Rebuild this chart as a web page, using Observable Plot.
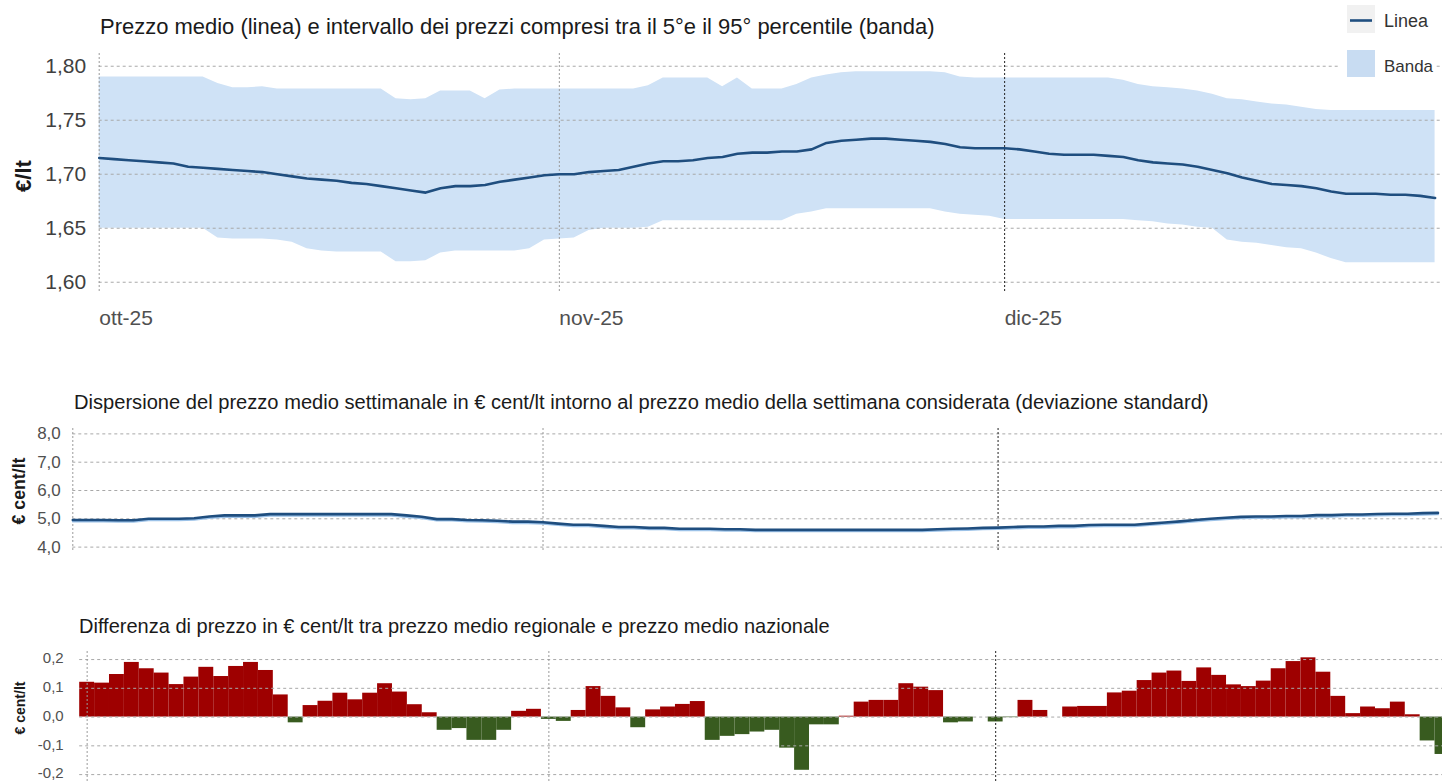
<!DOCTYPE html>
<html><head><meta charset="utf-8">
<script src="https://cdn.jsdelivr.net/npm/d3@7"></script>
<script src="https://cdn.jsdelivr.net/npm/@observablehq/plot@0.6"></script>
<style>
html,body{margin:0;padding:0;background:#fff;overflow:hidden}
#root{position:relative;width:1442px;height:781px;overflow:hidden;background:#fff}
#root svg{position:absolute;left:0;overflow:visible}
</style></head><body><div id="root"></div>
<script>
// ---------- data ----------
const START = Date.UTC(2025, 9, 1);
const DAY = 864e5;
const monthStarts = ["2025-10-01", "2025-11-01", "2025-12-01"];
const monthLabels = ["ott-25", "nov-25", "dic-25"];
const priceTicks = [1.60, 1.65, 1.70, 1.75, 1.80];
const stdTicks = [4, 5, 6, 7, 8];
const diffTicks = [-0.2, -0.1, 0, 0.1, 0.2];

// daily values, 1 Oct 2025 -> 30 Dec 2025
const meanPrice = [
  1.715,1.714,1.713,1.712,1.711,1.710,1.707,1.706,1.705,1.704,
  1.703,1.702,1.700,1.698,1.696,1.695,1.694,1.692,1.691,1.689,
  1.687,1.685,1.683,1.687,1.689,1.689,1.690,1.693,1.695,1.697,
  1.699,1.700,1.700,1.702,1.703,1.704,1.707,1.710,1.712,1.712,
  1.713,1.715,1.716,1.719,1.720,1.720,1.721,1.721,1.723,1.729,
  1.731,1.732,1.733,1.733,1.732,1.731,1.730,1.728,1.725,1.724,
  1.724,1.724,1.723,1.721,1.719,1.718,1.718,1.718,1.717,1.716,
  1.713,1.711,1.710,1.709,1.707,1.704,1.701,1.697,1.694,1.691,
  1.690,1.689,1.687,1.684,1.682,1.682,1.682,1.681,1.681,1.680,
  1.678
];
const bandHigh = [
  1.790,1.790,1.790,1.790,1.790,1.790,1.790,1.790,1.784,1.780,
  1.780,1.781,1.779,1.779,1.779,1.779,1.779,1.779,1.779,1.779,
  1.770,1.769,1.770,1.777,1.777,1.777,1.770,1.778,1.779,1.779,
  1.779,1.779,1.779,1.779,1.779,1.779,1.779,1.782,1.789,1.789,
  1.789,1.789,1.781,1.789,1.779,1.779,1.779,1.783,1.789,1.792,
  1.794,1.795,1.795,1.795,1.795,1.795,1.795,1.794,1.790,1.789,
  1.789,1.789,1.789,1.789,1.789,1.789,1.789,1.789,1.789,1.787,
  1.783,1.781,1.780,1.779,1.777,1.774,1.770,1.769,1.767,1.765,
  1.764,1.762,1.760,1.759,1.759,1.759,1.759,1.759,1.759,1.759,
  1.759
];
const bandLow = [
  1.650,1.650,1.650,1.650,1.650,1.650,1.650,1.650,1.641,1.640,
  1.640,1.640,1.639,1.637,1.631,1.629,1.628,1.628,1.628,1.628,
  1.619,1.619,1.620,1.627,1.629,1.629,1.629,1.629,1.629,1.631,
  1.639,1.640,1.641,1.648,1.650,1.650,1.650,1.651,1.657,1.657,
  1.657,1.657,1.657,1.657,1.657,1.657,1.657,1.663,1.665,1.668,
  1.668,1.668,1.668,1.668,1.668,1.668,1.668,1.665,1.663,1.662,
  1.661,1.658,1.658,1.658,1.658,1.658,1.658,1.658,1.658,1.658,
  1.657,1.656,1.654,1.653,1.651,1.650,1.639,1.637,1.636,1.634,
  1.632,1.631,1.627,1.622,1.618,1.618,1.618,1.618,1.618,1.618,
  1.618
];
const stdDev = [
  4.96,4.96,4.96,4.95,4.95,5.00,5.00,5.00,5.02,5.08,
  5.12,5.12,5.12,5.165,5.165,5.165,5.165,5.165,5.165,5.165,
  5.165,5.165,5.12,5.07,4.99,4.99,4.96,4.95,4.93,4.90,
  4.90,4.88,4.83,4.79,4.79,4.75,4.71,4.71,4.68,4.68,
  4.65,4.65,4.65,4.63,4.63,4.61,4.61,4.61,4.61,4.61,
  4.61,4.61,4.61,4.61,4.61,4.61,4.61,4.63,4.65,4.66,
  4.68,4.69,4.71,4.73,4.73,4.75,4.75,4.78,4.79,4.79,
  4.79,4.83,4.87,4.91,4.96,5.00,5.04,5.07,5.08,5.08,
  5.10,5.10,5.13,5.13,5.15,5.15,5.17,5.18,5.18,5.20,
  5.21
];
// daily, 1 Oct 2025 -> 31 Dec 2025
const regionalDiff = [
  0.121,0.118,0.148,0.190,0.168,0.153,0.113,0.139,0.173,0.141,
  0.176,0.190,0.162,0.077,-0.020,0.040,0.055,0.083,0.060,0.083,
  0.116,0.087,0.043,0.015,-0.046,-0.040,-0.081,-0.081,-0.046,0.020,
  0.027,-0.008,-0.015,0.023,0.106,0.072,0.032,-0.037,0.025,0.035,
  0.044,0.054,-0.081,-0.067,-0.061,-0.052,-0.046,-0.108,-0.185,-0.027,
  -0.027,0.003,0.052,0.058,0.058,0.116,0.104,0.092,-0.020,-0.017,
  0.000,-0.017,-0.002,0.058,0.023,0.000,0.035,0.037,0.037,0.084,
  0.090,0.127,0.153,0.160,0.124,0.171,0.145,0.112,0.106,0.125,
  0.168,0.193,0.206,0.156,0.072,0.012,0.035,0.029,0.052,0.008,
  -0.083,-0.130
];

// ---------- helpers ----------
const dateOf = d => new Date(START + d * DAY);
const months = monthStarts.map(s => new Date(s + "T00:00:00Z"));
const monthLabel = d => monthLabels[months.findIndex(m => +m === +d)];
const comma = k => d => d.toFixed(k).replace(".", ",");
const SANS = '"Liberation Sans", Arial, sans-serif';
const NARROW = '"Liberation Sans Narrow", "Arial Narrow", "Liberation Sans", sans-serif';
const root = document.getElementById("root");

const topData = meanPrice.map((m, i) => ({date: dateOf(i), mean: m, hi: bandHigh[i], lo: bandLow[i]}));
const stdData = stdDev.map((v, i) => ({date: dateOf(i), v}));
const diffData = regionalDiff.map((v, i) => ({x1: dateOf(i - 0.5), x2: dateOf(i + 0.5), v}));

const gridY = ticks => Plot.ruleY(ticks, {stroke: "#a8a8a8", strokeWidth: 1, strokeDasharray: "3,3"});
const gridX = () => [
  Plot.ruleX(months.slice(0, 2), {stroke: "#9a9a9a", strokeWidth: 1, strokeDasharray: "2,2"}),
  Plot.ruleX(months.slice(2), {stroke: "#222", strokeWidth: 1, strokeDasharray: "2,2"})
];

// ---------- panel 1 ----------
const p1 = Plot.plot({
  width: 1442, height: 340,
  marginLeft: 98.7, marginRight: 0, marginTop: 53, marginBottom: 48,
  x: {type: "utc", domain: [dateOf(0), dateOf(90.5)], label: null},
  y: {domain: [1.5905, 1.8118], label: null},
  style: {fontFamily: SANS, fontSize: "21px", color: "#404040", background: "transparent", overflow: "visible"},
  marks: [
    Plot.areaY(topData, {x: "date", y1: "lo", y2: "hi", fill: "#cfe2f6"}),
    gridY(priceTicks),
    gridX(),
    Plot.lineY(topData, {x: "date", y: "mean", stroke: "#1f4e7f", strokeWidth: 2.6}),
    Plot.axisY({ticks: priceTicks, tickSize: 0, tickPadding: 13, tickFormat: comma(2), fill: "#404040", label: null}),
    Plot.axisX({ticks: months, tickSize: 0, tickPadding: 18, textAnchor: "start", tickFormat: monthLabel, fill: "#505050", label: null})
  ]
});
p1.style.top = "0px";
root.appendChild(p1);

// ---------- panel 2 ----------
const p2 = Plot.plot({
  width: 1442, height: 145,
  marginLeft: 72.3, marginRight: 0, marginTop: 13, marginBottom: 8,
  x: {type: "utc", domain: [dateOf(0), dateOf(90.3)], axis: null, label: null},
  y: {domain: [3.81, 8.19], label: null},
  style: {fontFamily: NARROW, fontSize: "17px", color: "#505050", background: "transparent", overflow: "visible"},
  marks: [
    gridY(stdTicks),
    gridX(),
    Plot.lineY(stdData, {x: "date", y: "v", stroke: "#9cc2e8", strokeWidth: 2, dy: 1.5}),
    Plot.lineY(stdData, {x: "date", y: "v", stroke: "#1f4e7f", strokeWidth: 2.6}),
    Plot.axisY({ticks: stdTicks, tickSize: 0, tickPadding: 12, tickFormat: comma(1), fill: "#505050", label: null})
  ]
});
p2.style.top = "415px";
root.appendChild(p2);

// ---------- panel 3 ----------
const p3 = Plot.plot({
  width: 1442, height: 141,
  marginLeft: 79.2, marginRight: 0, marginTop: 11, marginBottom: 0,
  x: {type: "utc", domain: [dateOf(-0.5), dateOf(91)], axis: null, label: null},
  y: {domain: [-0.224, 0.228], label: null},
  style: {fontFamily: SANS, fontSize: "15px", color: "#505050", background: "transparent", overflow: "visible"},
  marks: [
    Plot.rect(diffData, {filter: d => d.v >= 0, x1: "x1", x2: "x2", y1: 0, y2: "v", fill: "#9e0000"}),
    Plot.rect(diffData, {filter: d => d.v < 0, x1: "x1", x2: "x2", y1: 0, y2: "v", fill: "#385b1f"}),
    gridY(diffTicks),
    gridX(),
    Plot.axisY({ticks: diffTicks, tickSize: 0, tickPadding: 16, tickFormat: comma(1), fill: "#505050", label: null, dy: -1})
  ]
});
p3.style.top = "640px";
root.appendChild(p3);

// ---------- titles, axis labels, legend ----------
const ov = d3.select(root).append("svg")
  .attr("width", 1442).attr("height", 781)
  .style("top", "0px").style("pointer-events", "none");

function label({x, y, text, width, family = SANS, weight = "normal", fill = "#1a1a1a", rotate = false, anchor = "start"}) {
  const t = ov.append("text")
    .attr("font-family", family).attr("font-weight", weight)
    .attr("font-size", 100).attr("fill", fill)
    .attr("text-anchor", anchor).text(text);
  const len = t.node().getComputedTextLength();
  t.attr("font-size", (100 * width / len).toFixed(2));
  if (rotate) t.attr("transform", `translate(${x},${y}) rotate(-90)`);
  else t.attr("x", x).attr("y", y);
  return t;
}

label({x: 100, y: 34, width: 835, text: "Prezzo medio (linea) e intervallo dei prezzi compresi tra il 5°e il 95° percentile (banda)"});
label({x: 74, y: 409, width: 1136, family: NARROW, text: "Dispersione del prezzo medio settimanale in € cent/lt intorno al prezzo medio della settimana considerata (deviazione standard)"});
label({x: 79, y: 633, width: 751, text: "Differenza di prezzo in € cent/lt tra prezzo medio regionale e prezzo medio nazionale"});

label({x: 31, y: 176, width: 32, weight: "bold", rotate: true, anchor: "middle", text: "€/lt"});
label({x: 25, y: 491, width: 67, weight: "bold", rotate: true, anchor: "middle", text: "€ cent/lt"});
label({x: 25, y: 708, width: 53, weight: "bold", rotate: true, anchor: "middle", text: "€ cent/lt"});

// legend
ov.append("rect").attr("x", 1338).attr("y", 0).attr("width", 98).attr("height", 84).attr("fill", "#fff");
ov.append("rect").attr("x", 1347).attr("y", 5).attr("width", 28).attr("height", 28).attr("fill", "#f1f1f1");
ov.append("line").attr("x1", 1350).attr("x2", 1372).attr("y1", 20.5).attr("y2", 20.5)
  .attr("stroke", "#1f4e7f").attr("stroke-width", 2.6);
ov.append("rect").attr("x", 1347).attr("y", 50).attr("width", 28).attr("height", 27).attr("fill", "#c8dcf2");
label({x: 1384, y: 27, width: 44, family: NARROW, fill: "#333", text: "Linea"});
label({x: 1384, y: 72, width: 49, family: NARROW, fill: "#333", text: "Banda"});
</script>
</body></html>
